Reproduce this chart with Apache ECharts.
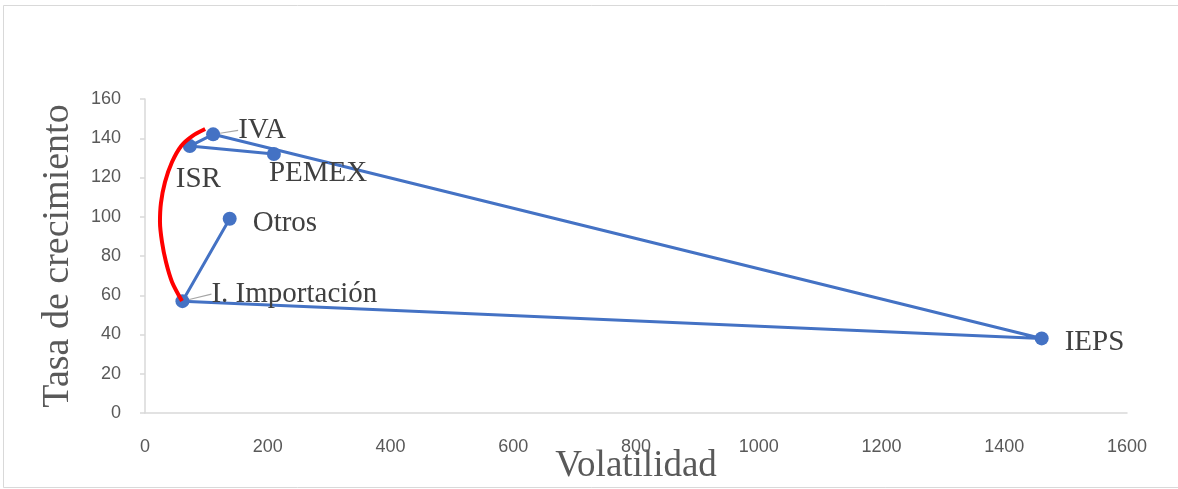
<!DOCTYPE html>
<html>
<head>
<meta charset="utf-8">
<script src="https://cdn.jsdelivr.net/npm/echarts@6/dist/echarts.min.js"></script>
<style>
html,body{margin:0;padding:0;background:#fff;}
#chart{width:1178px;height:489px;}
</style>
</head>
<body>
<div id="chart"></div>
<script>
// Data, in the order the line connects them
var names = ['Otros', 'I. Importación', 'IEPS', 'IVA', 'ISR', 'PEMEX'];
var volatility = [138, 61, 1461, 111, 73, 210];
var growth = [99, 57, 38, 142, 136, 132];
// Red hand-drawn arc (annotation) from IVA down to I. Importación
var arcX = [98, 77, 59, 44, 32.6, 26, 24.4, 27.7, 34.2, 44, 60.3];
var arcY = [144.7, 141.1, 136.1, 127.9, 117.7, 107, 97.3, 87.1, 76.9, 66.8, 57.1];
// Axis ticks
var xTicks = { min: 0, max: 1600, interval: 200 };
var yTicks = { min: 0, max: 160, interval: 20 };

// label adjustments (style only)
var labelShift = {
  'Otros': [2, 5, false],
  'I. Importación': [8, -7, true],
  'IEPS': [2, 4, false],
  'IVA': [4, -4, true],
  'ISR': [-35, 33, false],
  'PEMEX': [-26, 19, false]
};

var pts = names.map(function (n, i) {
  return {
    name: n,
    value: [volatility[i], growth[i]],
    labelLine: { show: labelShift[n][2], lineStyle: { color: '#a6a6a6', width: 1.2 } }
  };
});
var arc = arcX.map(function (x, i) { return [x, arcY[i]]; });

var chart = echarts.init(document.getElementById('chart'), null, { renderer: 'canvas' });
var serif = '"Liberation Serif", "Times New Roman", serif';
var sans = '"Liberation Sans", Arial, sans-serif';

chart.setOption({
  backgroundColor: '#ffffff',
  animation: false,
  graphic: [{
    type: 'rect',
    shape: { x: 3.5, y: 5.5, width: 1200, height: 482 },
    style: { fill: 'none', stroke: '#d9d9d9', lineWidth: 1 },
    silent: true, z: -10
  }],
  grid: { left: 145, right: 51, top: 99, bottom: 76, containLabel: false, outerBoundsMode: 'none' },
  xAxis: {
    type: 'value',
    min: xTicks.min, max: xTicks.max, interval: xTicks.interval,
    name: 'Volatilidad',
    nameLocation: 'middle',
    nameGap: 35,
    nameMoveOverlap: false,
    nameTextStyle: { fontFamily: serif, fontSize: 37, color: '#595959' },
    axisLine: { show: true, lineStyle: { color: '#d9d9d9', width: 1.5 } },
    axisTick: { show: false },
    splitLine: { show: false },
    axisLabel: { fontFamily: sans, fontSize: 18, color: '#595959', margin: 25,
      formatter: function (v) { return String(v); } }
  },
  yAxis: {
    type: 'value',
    min: yTicks.min, max: yTicks.max, interval: yTicks.interval,
    name: 'Tasa de crecimiento',
    nameLocation: 'middle',
    nameRotate: 90,
    nameGap: 68,
    nameMoveOverlap: false,
    nameTextStyle: { fontFamily: serif, fontSize: 38, color: '#595959' },
    axisLine: { show: true, lineStyle: { color: '#d9d9d9', width: 1.5 } },
    axisTick: { show: true, inside: false, length: 5, lineStyle: { color: '#d9d9d9', width: 1.5 } },
    splitLine: { show: false },
    axisLabel: { fontFamily: sans, fontSize: 18, color: '#595959', margin: 24,
      formatter: function (v) { return String(v); } }
  },
  series: [{
    type: 'line',
    data: pts,
    symbol: 'circle',
    symbolSize: 14,
    showSymbol: true,
    itemStyle: { color: '#4472C4' },
    lineStyle: { color: '#4472C4', width: 3 },
    label: {
      show: true,
      position: 'right',
      distance: 14,
      formatter: '{b}',
      fontFamily: serif,
      fontSize: 29,
      color: '#404040'
    },
    labelLayout: function (p) {
      var s = labelShift[names[p.dataIndex]];
      return { dx: s[0], dy: s[1] };
    },
    z: 2
  }, {
    type: 'line',
    data: arc,
    smooth: 0.3,
    symbol: 'none',
    lineStyle: { color: '#ff0000', width: 4 },
    z: 3
  }]
});
</script>
</body>
</html>
